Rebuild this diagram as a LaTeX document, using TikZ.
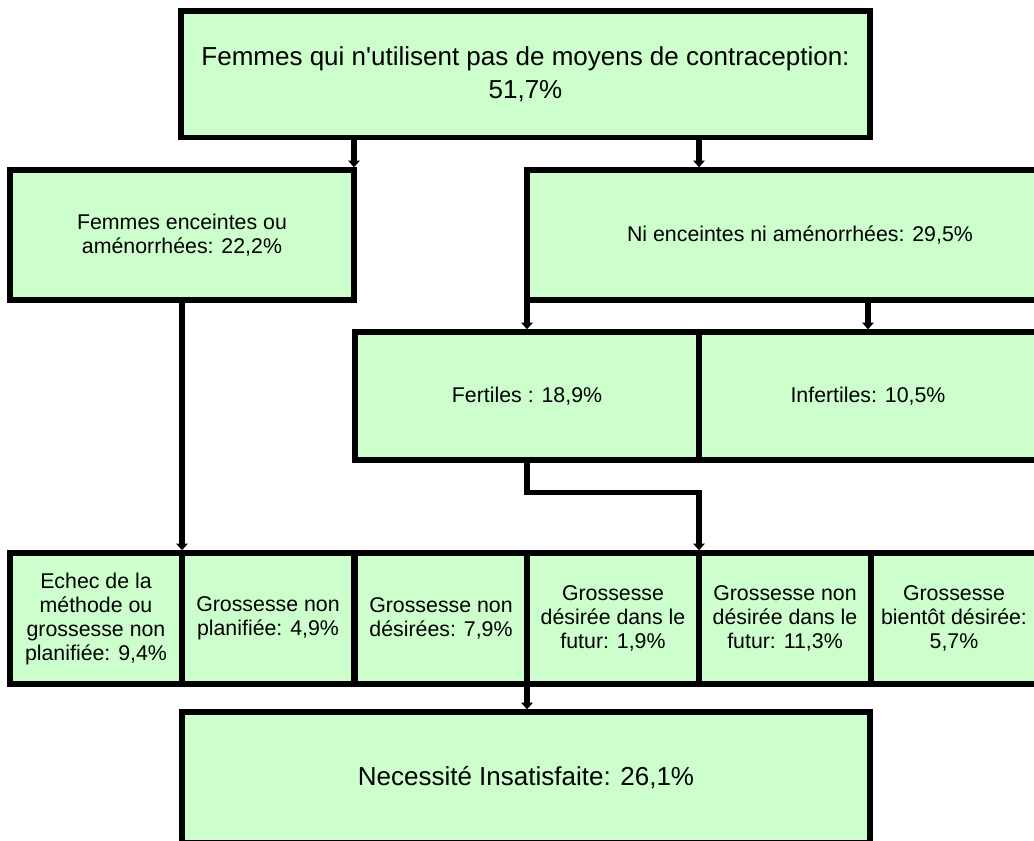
\documentclass[tikz,border=0pt]{standalone}
\usepackage{fontspec}
\setmainfont{Liberation Sans}
\usetikzlibrary{arrows.meta}
\definecolor{boxgreen}{HTML}{CCFFCC}

\begin{document}
\begin{tikzpicture}[x=0.75pt, y=-0.75pt,
	box/.style={draw, fill=boxgreen, line width=4pt, inner sep=2pt, outer xsep=0pt, outer ysep=2pt,
		align=center, font=\fontsize{16}{18}\selectfont},
	bigbox/.style={box, font=\fontsize{19.5}{25}\selectfont},
	arr/.style={line width=4pt, -{Triangle[width=8.5pt, length=5pt]}}]
	\useasboundingbox (0,0) rectangle (1034,841);
	\clip (0,0) rectangle (1034,841);

	% levels
	\node[bigbox, minimum width=516.75pt, minimum height=95pt] (top) at (525.5,74.5) {Femmes qui n\textquotesingle utilisent pas de moyens de contraception:\\51,7\%};
	\node[box, minimum width=258pt, minimum height=97.5pt] (pregn) at (182,235) {Femmes enceintes ou\\aménorrhées: 22,2\%};
	\node[box, minimum width=409.5pt, minimum height=97.5pt] (notpregn) at (800,235) {Ni enceintes ni aménorrhées: 29,5\%};
	\node[box, minimum width=258pt, minimum height=96pt] (fert) at (527,396) {Fertiles : 18,9\%};
	\node[box, minimum width=253.5pt, minimum height=96pt] (infert) at (868,396) {Infertiles: 10,5\%};

	% bottom row
	\node[box, minimum width=129pt, minimum height=98.25pt] (r1) at (96,618.5) {Echec de la\\méthode ou\\grossesse non\\planifiée: 9,4\%};
	\node[box, minimum width=129pt, minimum height=98.25pt] (r2) at (268,618.5) {Grossesse non\\planifiée: 4,9\%};
	\node[box, minimum width=129pt, minimum height=98.25pt] (r3) at (441,618.5) {Grossesse non\\désirées: 7,9\%};
	\node[box, minimum width=129pt, minimum height=98.25pt] (r4) at (613,618.5) {Grossesse\\désirée dans le\\futur: 1,9\%};
	\node[box, minimum width=129pt, minimum height=98.25pt] (r5) at (785,618.5) {Grossesse non\\désirée dans le\\futur: 11,3\%};
	\node[box, minimum width=124.5pt, minimum height=98.25pt] (r6) at (954,618.5) {Grossesse\\bientôt désirée:\\5,7\%};

	\node[bigbox, minimum width=516pt, minimum height=97.9pt] (unmet) at (526,777.3) {Necessité Insatisfaite: 26,1\%};

	% connectors
	\draw[arr] (top.south -| pregn.north east) -- (pregn.north east);
	\draw[arr] (top.south -| fert.east) -- (notpregn.north -| fert.east);
	\draw[arr] (notpregn.south -| fert.north) -- (fert.north);
	\draw[arr] (notpregn.south -| infert.north) -- (infert.north);
	\draw[arr] (pregn.south) -- (r1.north east);
	\draw[arr] (fert.south) -- ++(0,30) -| (r4.north east);
	\draw[arr] (r4.south west) -- (unmet.north -| r4.south west);
\end{tikzpicture}
\end{document}
